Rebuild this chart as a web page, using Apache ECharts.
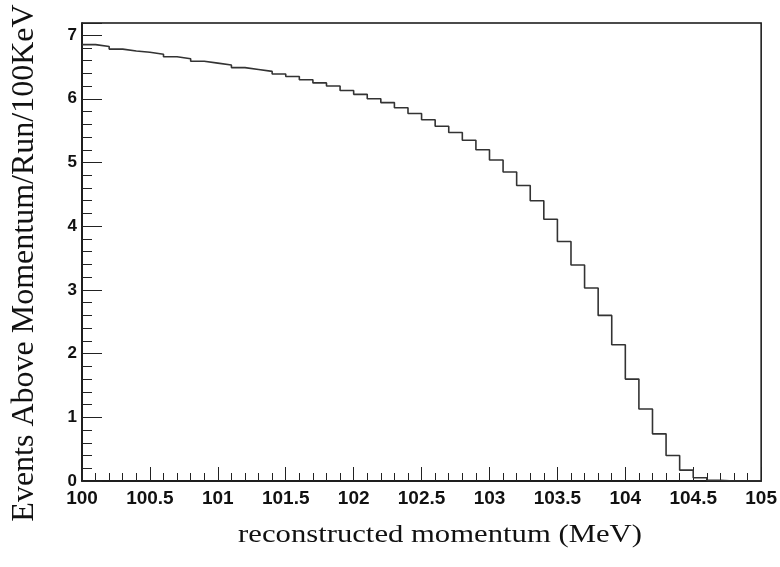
<!DOCTYPE html>
<html lang="en">

<head>
  <meta charset="UTF-8">
  <script src="https://cdn.jsdelivr.net/npm/echarts@6/dist/echarts.min.js"></script>
  <title>reconstructed momentum</title>
  <style>
    html, body { margin: 0; padding: 0; background: #fff; }
    #main { width: 780px; height: 567px; }
  </style>
</head>

<body>
  <div id="main"></div>

  <script>
    // bin low edges (MeV), 0.1 MeV wide, last entry is the upper edge of the last bin
    let binEdges = [
      100.0, 100.1, 100.2, 100.3, 100.4, 100.5, 100.6, 100.7, 100.8, 100.9,
      101.0, 101.1, 101.2, 101.3, 101.4, 101.5, 101.6, 101.7, 101.8, 101.9,
      102.0, 102.1, 102.2, 102.3, 102.4, 102.5, 102.6, 102.7, 102.8, 102.9,
      103.0, 103.1, 103.2, 103.3, 103.4, 103.5, 103.6, 103.7, 103.8, 103.9,
      104.0, 104.1, 104.2, 104.3, 104.4, 104.5, 104.6, 104.7, 104.8, 104.9,
      105.0
    ]
    // events above momentum / run / 100 keV, one per bin
    let binValues = [
      6.85, 6.82, 6.78, 6.75, 6.73, 6.70, 6.66, 6.63, 6.59, 6.56,
      6.53, 6.49, 6.46, 6.43, 6.39, 6.35, 6.30, 6.25, 6.20, 6.13,
      6.07, 6.00, 5.94, 5.86, 5.77, 5.67, 5.57, 5.47, 5.35, 5.20,
      5.04, 4.85, 4.64, 4.40, 4.11, 3.76, 3.39, 3.03, 2.60, 2.14,
      1.60, 1.13, 0.74, 0.40, 0.17, 0.05, 0.01, 0, 0, 0
    ]
    let xTitle = 'reconstructed momentum (MeV)'
    let yTitle = 'Events Above Momentum/Run/100KeV'

    // step 'end' draws each bin flat from its low edge to the next edge
    let points = binValues.map((v, i) => [binEdges[i], v])
    points.push([binEdges[binEdges.length - 1], binValues[binValues.length - 1]])

    let labelFont = { fontFamily: 'Liberation Sans', fontWeight: 'bold', color: '#111' }

    let chart = echarts.init(document.getElementById('main'), null, { renderer: 'canvas' })

    let option = {
      animation: false,
      backgroundColor: '#fff',
      grid: {
        left: 82, right: 18, top: 23, bottom: 86,
        show: true, borderColor: '#111', borderWidth: 1.5, backgroundColor: 'transparent'
      },
      xAxis: {
        type: 'value',
        min: 100, max: 105, interval: 0.5,
        axisLine: { show: true, onZero: false, lineStyle: { color: '#111', width: 1.5 } },
        axisTick: { show: true, inside: true, length: 14, lineStyle: { color: '#222', width: 1 } },
        minorTick: { show: true, splitNumber: 5, length: 8, lineStyle: { color: '#222', width: 1 } },
        splitLine: { show: false },
        axisLabel: Object.assign({ fontSize: 19, margin: 8, formatter: v => String(+v.toFixed(1)) }, labelFont)
      },
      yAxis: {
        type: 'value',
        min: 0, max: 7.19, interval: 1,
        axisLine: { show: true, lineStyle: { color: '#111', width: 1.5 } },
        axisTick: { show: true, inside: true, length: 20, lineStyle: { color: '#222', width: 1 } },
        minorTick: { show: true, splitNumber: 5, length: 10, lineStyle: { color: '#222', width: 1 } },
        splitLine: { show: false },
        axisLabel: Object.assign({ fontSize: 17, margin: 5, showMaxLabel: false }, labelFont)
      },
      graphic: [
        {
          type: 'text', x: 440, y: 535, scaleX: 1.18,
          style: { text: xTitle, font: '26px "Liberation Serif"', fill: '#111', align: 'center', verticalAlign: 'middle' }
        },
        {
          type: 'text', x: 25, y: 263, rotation: Math.PI / 2,
          style: { text: yTitle, font: '32px "Liberation Serif"', fill: '#111', align: 'center', verticalAlign: 'middle' }
        }
      ],
      series: [{
        type: 'line',
        step: 'end',
        data: points,
        symbol: 'none',
        lineStyle: { color: '#333', width: 1.6 },
        z: 3
      }]
    }

    chart.setOption(option)
  </script>
</body>

</html>
